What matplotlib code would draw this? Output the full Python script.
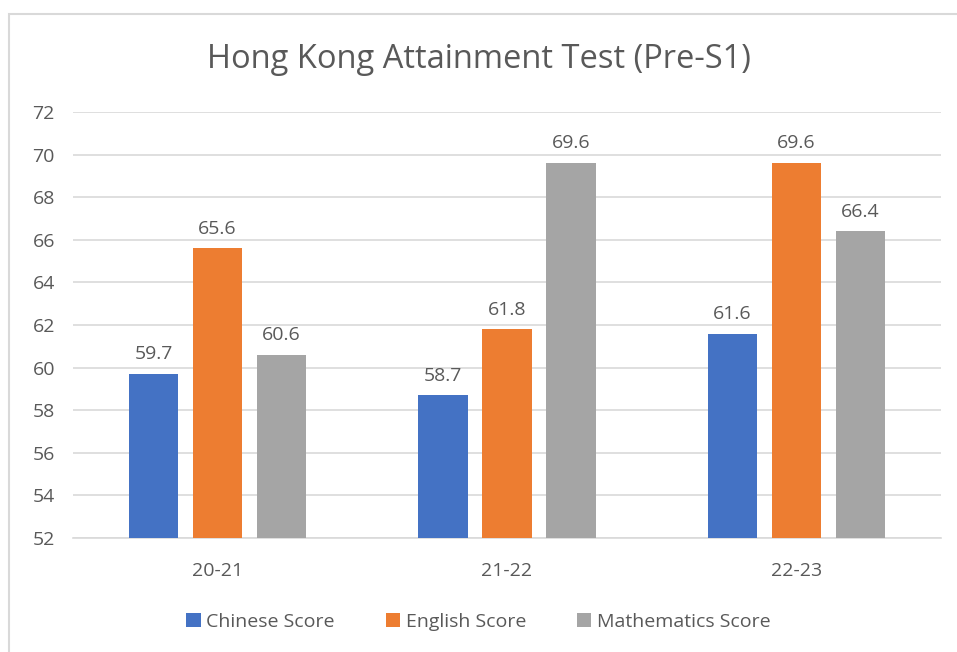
import matplotlib.pyplot as plt
import matplotlib.patches as mpatches
import numpy as np

years = ['20-21', '21-22', '22-23']
chinese = [59.7, 58.7, 61.6]
english = [65.6, 61.8, 69.6]
maths = [60.6, 69.6, 66.4]
series_names = ['Chinese Score', 'English Score', 'Mathematics Score']
colors = ['#4472c4', '#ed7d31', '#a5a5a5']
yticks = list(range(52, 73, 2))

txt = '#595959'
plt.rcParams['font.family'] = ['Open Sans', 'DejaVu Sans']

fig = plt.figure(figsize=(9.57, 6.52), dpi=100)
ax = fig.add_axes([73/957, 1 - 538/652, (941 - 73)/957, (538 - 112)/652])

# light frame round the chart
fig.patches.append(mpatches.Rectangle((9/957, -0.05), 1.2, 1 - 14/652 + 0.05,
                                      transform=fig.transFigure, fill=False,
                                      edgecolor='#d9d9d9', linewidth=1.5))

x = np.arange(len(years))
width = 0.17
step = 0.221
for i, (vals, name, c) in enumerate(zip([chinese, english, maths], series_names, colors)):
    pos = x + (i - 1) * step
    ax.bar(pos, vals, width, color=c, label=name, zorder=3)
    for p, v in zip(pos, vals):
        ax.text(p, v + 0.5, f'{v}', ha='center', va='bottom', fontsize=14, color=txt)

ax.set_xlim(-0.5, 2.5)
ax.set_ylim(52, 72)
ax.set_yticks(yticks)
ax.set_xticks(x)
ax.set_xticklabels(years)
ax.grid(axis='y', color='#d9d9d9', linewidth=1.2, zorder=0)
for s in ['top', 'right', 'left']:
    ax.spines[s].set_visible(False)
ax.spines['bottom'].set_color('#d9d9d9')
ax.spines['bottom'].set_linewidth(1.2)
ax.tick_params(axis='both', length=0, labelsize=14, labelcolor=txt)
ax.tick_params(axis='x', pad=17)
ax.tick_params(axis='y', pad=13)

fig.text(0.5, 1 - 60/652, 'Hong Kong Attainment Test (Pre-S1)', ha='center', va='center',
         fontsize=23.5, color=txt)

fig.legend(loc='center', bbox_to_anchor=(0.5, 1 - 622/652), ncol=3, frameon=False,
           fontsize=14, labelcolor=txt, handlelength=0.75, handleheight=0.75,
           handletextpad=0.3, columnspacing=2.6)

fig.savefig('out.png', dpi=100)
